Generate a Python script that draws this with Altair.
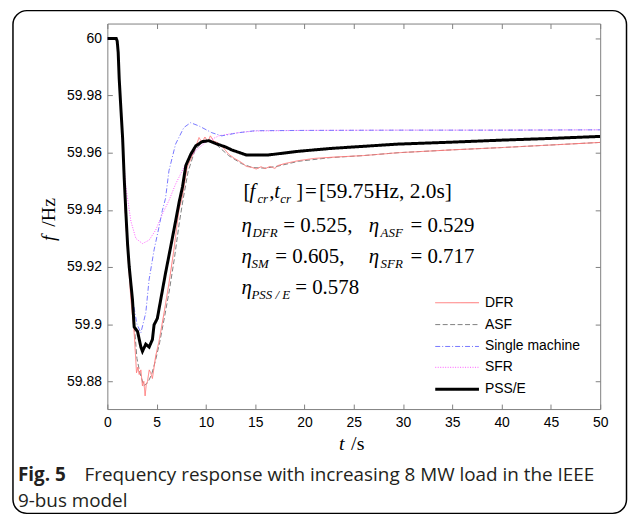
import altair as alt
import pandas as pd

# ---------------- data ----------------
T_DFR = [0, 0.9, 1.0, 1.1, 1.2, 1.38, 1.55, 1.71, 1.85, 2.05, 2.39, 2.72, 2.96, 3.1, 3.23, 3.4, 3.56, 3.7, 3.83, 3.95,
         4.07, 4.25, 4.4, 4.57, 4.9, 5.24, 5.75, 6.25, 6.75, 7.26, 7.6, 8.1, 8.5, 8.94, 9.3, 9.6, 9.9, 10.2, 10.45, 10.8,
         11.2, 11.7, 12.3, 12.9, 13.6, 14.1, 14.65, 15.1, 15.6, 16.0, 16.5, 17.0, 17.3, 18.0, 19.35, 21, 22.7, 26, 29.5, 35,
         40, 45, 50]
F_DFR = [60, 60, 59.999, 59.995, 59.986, 59.975, 59.964, 59.950, 59.937, 59.926, 59.9085, 59.897, 59.883, 59.885, 59.8824,
         59.884, 59.8784, 59.880, 59.8749, 59.879, 59.880, 59.884, 59.883, 59.881, 59.8888, 59.894, 59.9039, 59.9143, 59.926,
         59.940, 59.9444, 59.955, 59.958, 59.9618, 59.9653, 59.9636, 59.9655, 59.9638, 59.9659, 59.964, 59.9635, 59.962,
         59.9595, 59.958, 59.9566, 59.9552, 59.9549, 59.9543, 59.9551, 59.9544, 59.9552, 59.9545, 59.9555, 59.9562, 59.9572,
         59.958, 59.9584, 59.959, 59.960, 59.961, 59.9618, 59.9627, 59.9636]

T_ASF = [0, 0.9, 1.0, 1.1, 1.2, 1.38, 1.55, 1.71, 1.85, 2.05, 2.4, 2.75, 3.0, 3.3, 3.7, 4.1, 4.5, 4.9, 5.3, 5.8,
         6.3, 6.8, 7.3, 7.7, 8.2, 8.9, 9.6, 10.3, 11.0, 12.3, 13.6, 14.7, 16.0, 17.3, 19.4, 22.7, 26, 29.5, 35, 40, 45, 50]
F_ASF = [60, 60, 59.999, 59.995, 59.986, 59.975, 59.964, 59.950, 59.937, 59.927, 59.912, 59.899, 59.888, 59.883, 59.8785,
         59.8795, 59.8825, 59.8875, 59.8935, 59.9025, 59.912, 59.923, 59.9355, 59.944, 59.9535, 59.961, 59.9635, 59.964,
         59.963, 59.959, 59.9562, 59.9548, 59.9546, 59.9553, 59.957, 59.9583, 59.959, 59.960, 59.961, 59.9618, 59.9627, 59.9636]

T_SM = [0, 0.9, 1.0, 1.1, 1.2, 1.38, 1.55, 1.71, 1.88, 2.2, 2.55, 3.0, 3.4, 3.9, 4.23, 4.74, 5.24, 5.58, 5.9, 6.25,
        6.92, 7.76, 8.44, 9.27, 10.6, 11.6, 13.3, 15, 20, 30, 40, 50]
F_SM = [60, 60, 59.999, 59.995, 59.986, 59.975, 59.965, 59.951, 59.939, 59.922, 59.909, 59.900, 59.897, 59.904, 59.9155,
        59.926, 59.934, 59.9398, 59.944, 59.9537, 59.963, 59.9688, 59.9705, 59.9694, 59.967, 59.9659, 59.967, 59.9677,
        59.9678, 59.9679, 59.9679, 59.968]

T_SFR = [0, 0.9, 1.0, 1.1, 1.2, 1.38, 1.54, 1.88, 2.39, 2.89, 3.56, 4.23, 4.9, 5.58, 6.25, 6.92, 7.93, 8.94, 9.95, 11.3,
         12.3, 13.5, 15, 20, 30, 40, 50]
F_SFR = [60, 60, 59.999, 59.995, 59.986, 59.974, 59.962, 59.948, 59.936, 59.930, 59.9282, 59.9294, 59.9329, 59.9385,
         59.9433, 59.949, 59.956, 59.9607, 59.9636, 59.9659, 59.9665, 59.9671, 59.9676, 59.9678, 59.9679, 59.9679, 59.968]

T_PSSE = [0, 0.9, 1.0, 1.1, 1.2, 1.38, 1.55, 1.71, 1.88, 2.05, 2.22, 2.55, 2.72, 3.06, 3.4, 3.56, 3.9, 4.24, 4.57, 4.74,
          5.07, 5.41, 5.91, 6.42, 6.92, 7.3, 7.62, 7.96, 8.47, 8.97, 9.64, 10.3, 11.0, 12.0, 12.6, 14.1, 16.3, 19.4, 22.7,
          29.4, 35, 40, 45, 50]
F_PSSE = [60, 60, 59.999, 59.995, 59.986, 59.975, 59.965, 59.951, 59.939, 59.928, 59.920, 59.9085, 59.899, 59.8975, 59.892,
          59.8905, 59.893, 59.892, 59.8946, 59.8998, 59.902, 59.9085, 59.918, 59.927, 59.936, 59.943, 59.948, 59.9555,
          59.9595, 59.9624, 59.9639, 59.9642, 59.9632, 59.962, 59.961, 59.9592, 59.9592, 59.9605, 59.9615, 59.963, 59.9637,
          59.9644, 59.965, 59.9657]

SERIES = ["DFR", "ASF", "Single machine", "SFR", "PSS/E"]
X_TICKS = [0, 5, 10, 15, 20, 25, 30, 35, 40, 45, 50]
Y_TICKS = [59.88, 59.9, 59.92, 59.94, 59.96, 59.98, 60]

# ---------------- styling ----------------
STYLE = {
    "DFR": dict(color="#ff7a7a", strokeDash=[1, 0], strokeWidth=1),
    "ASF": dict(color="#7f7f7f", strokeDash=[5, 2.5], strokeWidth=1),
    "Single machine": dict(color="#7878ff", strokeDash=[5, 2, 1, 2], strokeWidth=1),
    "SFR": dict(color="#ff5cff", strokeDash=[1, 1.5], strokeWidth=1),
    "PSS/E": dict(color="#000000", strokeDash=[1, 0], strokeWidth=3),
}
DATA = {"DFR": (T_DFR, F_DFR), "ASF": (T_ASF, F_ASF), "Single machine": (T_SM, F_SM),
        "SFR": (T_SFR, F_SFR), "PSS/E": (T_PSSE, F_PSSE)}

W, H = 496, 388
OX, OY = 108, 22  # page position of plot origin
FRAME = "#808080"

xs = alt.Scale(domain=[0, 50], nice=False)
ys = alt.Scale(domain=[59.8703, 60.0052], nice=False, zero=False)

lab_common = dict(grid=False, title=None, labelFont="Liberation Sans", labelFontSize=14, labelColor="#000",
                  labelFlush=False, labelOverlap=False)
tick_common = dict(grid=False, title=None, labels=False, domain=False, ticks=True, tickSize=5,
                   tickColor=FRAME, tickWidth=1)

ax_x_lab = alt.Axis(orient="bottom", values=X_TICKS, ticks=False, domain=False, labelPadding=7, **lab_common)
ax_y_lab = alt.Axis(orient="left", values=Y_TICKS, ticks=False, domain=False, labelPadding=6,
                    labelExpr="'' + round(datum.value*100)/100", **lab_common)
ax_x_b = alt.Axis(orient="top", offset=-H, values=X_TICKS, **tick_common)
ax_x_t = alt.Axis(orient="bottom", offset=-H, values=X_TICKS, **tick_common)
ax_y_l = alt.Axis(orient="right", offset=-W, values=Y_TICKS, **tick_common)
ax_y_r = alt.Axis(orient="left", offset=-W, values=Y_TICKS, **tick_common)

axes = {"DFR": (ax_x_lab, ax_y_lab), "ASF": (ax_x_b, ax_y_l), "Single machine": (ax_x_t, ax_y_r),
        "SFR": (None, None), "PSS/E": (None, None)}


def series_layer(name):
    t, f = DATA[name]
    df = pd.DataFrame({"t": t, "f": f})
    axx, axy = axes[name]
    return alt.Chart(df).mark_line(clip=True, **STYLE[name]).encode(
        x=alt.X("t:Q", scale=xs, axis=axx),
        y=alt.Y("f:Q", scale=ys, axis=axy),
    )


one = pd.DataFrame({"k": [0]})


def txt(s, xp, yp, size=21, font="Liberation Serif", style="normal", weight="normal", angle=0,
        align="left", color="black"):
    return alt.Chart(one).mark_text(text=s, font=font, fontSize=size, fontStyle=style, fontWeight=weight,
                                    align=align, baseline="middle", angle=angle, color=color).encode(
        x=alt.value(xp - OX), y=alt.value(yp - OY))


def sub(s, xp, yp):
    return txt(s, xp, yp + 7, size=13, style="italic")


def eta(xp, yp):
    return txt("η", xp, yp, style="italic")


layers = [series_layer(n) for n in ["ASF", "DFR", "SFR", "Single machine", "PSS/E"]]

# axis titles
layers += [
    txt("f", 49, 238, size=20, style="italic", angle=270, align="center"),
    txt("/Hz", 49, 212, size=20, angle=270, align="center"),
    txt("t", 344, 445, size=20, style="italic", align="center"),
    txt("/s", 360, 445, size=20, align="center"),
]

# annotation
L1, L2, L3, L4 = 192, 226, 257, 288
layers += [
    txt("[", 245, L1), txt("f", 251, L1, style="italic"), sub("cr", 259, L1),
    txt(",", 271, L1), txt("t", 276, L1, style="italic"), sub("cr", 282, L1),
    txt("]", 298, L1), txt("=", 307, L1), txt("[59.75Hz, 2.0s]", 321, L1, size=21.5),
    eta(243, L2), sub("DFR", 254, L2), txt("= 0.525,", 285, L2),
    eta(371, L2), sub("ASF", 383, L2), txt("= 0.529", 413, L2),
    eta(243, L3), sub("SM", 253, L3), txt("= 0.605,", 277, L3),
    eta(371, L3), sub("SFR", 383, L3), txt("= 0.717", 413, L3),
    eta(243, L4), sub("PSS / E", 253, L4), txt("= 0.578", 297, L4),
]

# legend (manual)
LEG_Y = [303, 325, 347, 368, 390]
for name, yp in zip(SERIES, LEG_Y):
    layers.append(alt.Chart(one).mark_rule(**STYLE[name]).encode(
        x=alt.value(438 - OX), x2=alt.value(482 - OX), y=alt.value(yp - OY)))
    layers.append(txt(name, 488, yp, size=14, font="Liberation Sans"))

# caption and frame
CAP = 19
layers += [
    txt("Fig. 5", 18, 476, size=CAP, font="Open Sans", weight="bold", color="#231f20"),
    txt("Frequency response with increasing 8 MW load in the IEEE", 85, 476, size=CAP, font="Open Sans",
        color="#231f20"),
    txt("9-bus model", 18, 503, size=CAP, font="Open Sans", color="#231f20"),
    alt.Chart(one).mark_rect(fill="transparent", stroke="black", strokeWidth=1.5, cornerRadius=14).encode(
        x=alt.value(13 - OX), x2=alt.value(630.5 - OX), y=alt.value(9 - OY), y2=alt.value(515 - OY)),
]

chart = alt.layer(*layers).resolve_axis(x="independent", y="independent").properties(
    width=W, height=H,
    padding={"left": 100, "top": 14, "right": 28, "bottom": 106},
    autosize=alt.AutoSizeParams(type="none"),
).configure_view(stroke=FRAME, strokeWidth=1)

chart.save("out.html", embed_options={"renderer": "svg", "actions": False})
